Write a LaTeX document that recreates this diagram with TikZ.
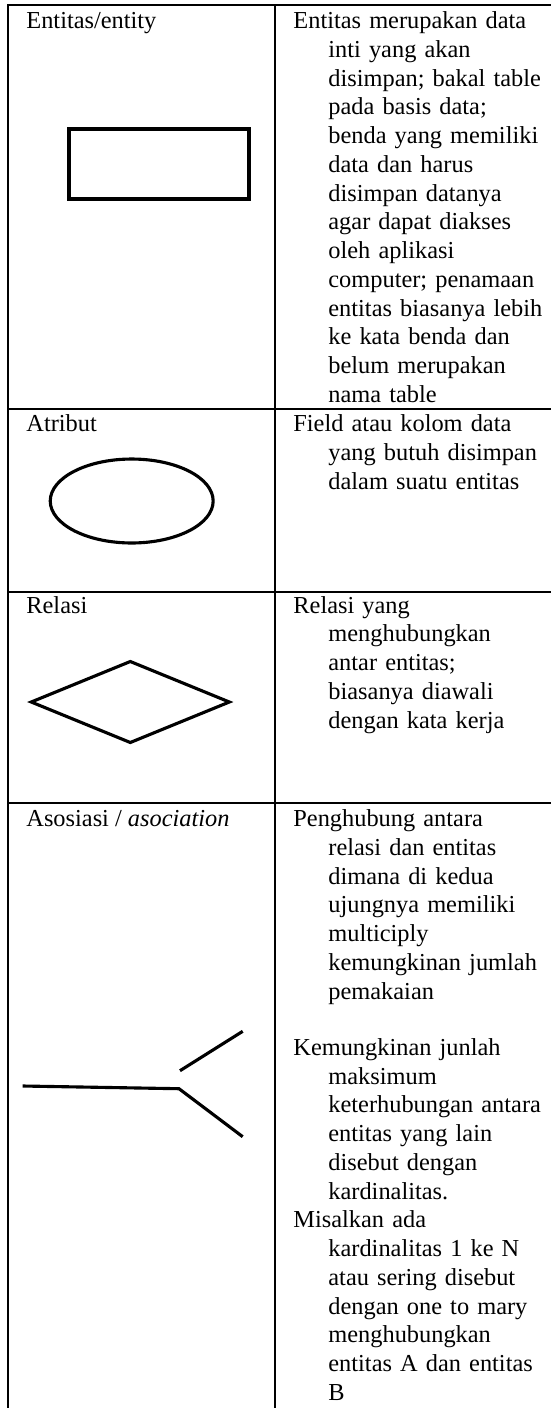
\documentclass[tikz,border=0pt]{standalone}
\usepackage{fontspec}
\setmainfont{Liberation Serif}
\usetikzlibrary{shapes.geometric}
\newcommand{\hind}{\hspace*{16.8pt}}

\begin{document}
\begin{tikzpicture}[x=0.48pt, y=-0.48pt,
  grid/.style={line width=0.7pt},
  symbol/.style={draw, line width=1.5pt, inner sep=0pt},
  assoc/.style={line width=1.5pt},
  lbl/.style={anchor=base west, inner sep=0pt, font=\fontsize{11.7pt}{13.8pt}\selectfont},
  desc/.style={lbl, text width=130pt, align=left}]
  \useasboundingbox (0,0) rectangle (551,1408);

  % table lines
  \draw[line width=1pt] (7,5) -- (551,5);
  \draw[grid] (7.8,5) -- (7.8,1408);
  \draw[grid] (275,5) -- (275,1408);
  \draw[grid] (7,409) -- (551,409);
  \draw[grid] (7,592) -- (551,592);
  \draw[line width=0.9pt] (7,803) -- (551,803);

  % left column
  \node[lbl] (entLbl) at (26,28.5) {Entitas/entity};
  \node[lbl] (atrLbl) at (26,431.7) {Atribut};
  \node[lbl] (relLbl) at (26,613) {Relasi};
  \node[lbl] (asoLbl) at (26,826.7) {Asosiasi / \textit{asociation}};

  \node[symbol, rectangle, minimum width=86.4pt, minimum height=33.6pt] (entity) at (159,164) {};
  \node[symbol, ellipse, minimum width=78.2pt, minimum height=40.3pt] (attr) at (131.7,501) {};
  \node[symbol, diamond, minimum width=95.7pt, minimum height=39.5pt] (rel) at (130.3,702) {};

  \coordinate (A1) at (22.7,1086);
  \coordinate (A2) at (179,1088.7);
  \coordinate (A3) at (242.7,1136.7);
  \coordinate (A4) at (180,1070.7);
  \coordinate (A5) at (242.7,1031.3);
  \draw[assoc] (A1) -- (A2) -- (A3);
  \draw[assoc] (A4) -- (A5);

  % right column
  \node[desc] (entTxt) at (293,28.5) {Entitas merupakan data\\
    \hind inti yang akan\\
    \hind disimpan; bakal table\\
    \hind pada basis data;\\
    \hind benda yang memiliki\\
    \hind data dan harus\\
    \hind disimpan datanya\\
    \hind agar dapat diakses\\
    \hind oleh aplikasi\\
    \hind computer; penamaan\\
    \hind entitas biasanya lebih\\
    \hind ke kata benda dan\\
    \hind belum merupakan\\
    \hind nama table};
  \node[desc] (atrTxt) at (293,431.7) {Field atau kolom data\\
    \hind yang butuh disimpan\\
    \hind dalam suatu entitas};
  \node[desc] (relTxt) at (293,613) {Relasi yang\\
    \hind menghubungkan\\
    \hind antar entitas;\\
    \hind biasanya diawali\\
    \hind dengan kata kerja};
  \node[desc] (asoTxt) at (293,826.7) {Penghubung antara\\
    \hind relasi dan entitas\\
    \hind dimana di kedua\\
    \hind ujungnya memiliki\\
    \hind multiciply\\
    \hind kemungkinan jumlah\\
    \hind pemakaian\\[13.1pt]
    Kemungkinan junlah\\
    \hind maksimum\\
    \hind keterhubungan antara\\
    \hind entitas yang lain\\
    \hind disebut dengan\\
    \hind kardinalitas.\\
    Misalkan ada\\
    \hind kardinalitas 1 ke N\\
    \hind atau sering disebut\\
    \hind dengan one to mary\\
    \hind menghubungkan\\
    \hind entitas A dan entitas\\
    \hind B};
\end{tikzpicture}
\end{document}
